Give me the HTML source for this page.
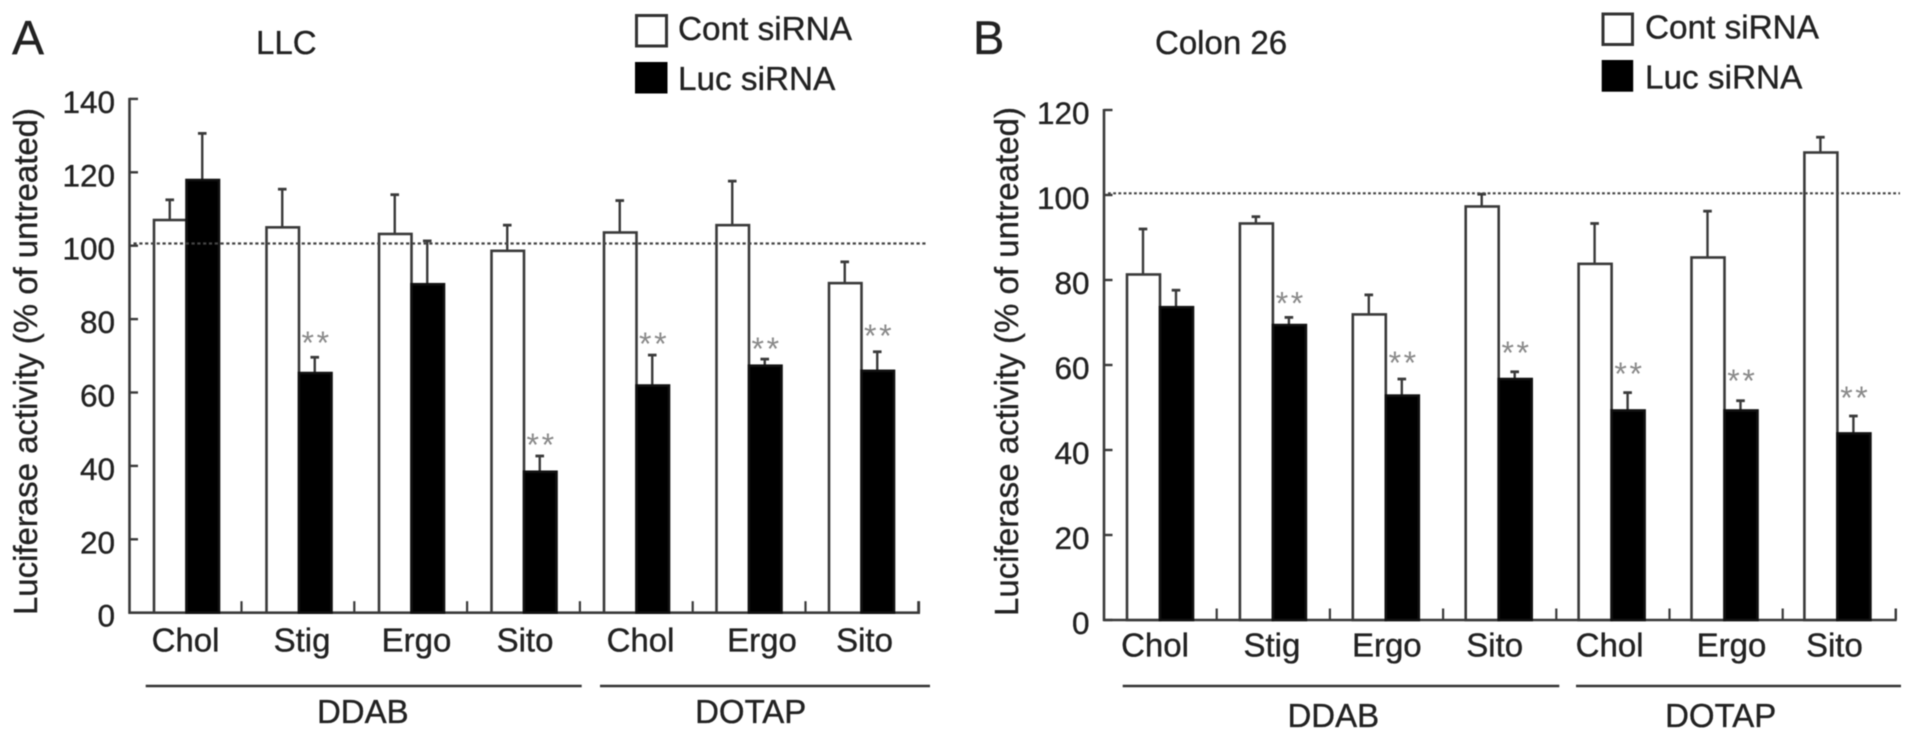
<!DOCTYPE html>
<html lang="en">
<head>
<meta charset="utf-8">
<title>Luciferase activity charts</title>
<style>
html,body{margin:0;padding:0;background:#fff;width:1913px;height:741px;overflow:hidden}
svg{display:block;filter:blur(.6px)}
text{font-family:"Liberation Sans",Arial,sans-serif;fill:#222;stroke:#222;stroke-width:.35px}
</style>
</head>
<body>
<svg id="figure" xmlns="http://www.w3.org/2000/svg" width="1913" height="741" viewBox="0 0 1913 741">
  <rect width="1913" height="741" fill="#fff"/>

  <g id="panel-a">
    <text x="12" y="54" font-size="48">A</text>
    <text x="256" y="54" font-size="33">LLC</text>
    <text transform="translate(37,615) rotate(-90)" font-size="33" textLength="507">Luciferase activity (% of untreated)</text>
    <g>
      <rect x="636.5" y="15.5" width="30" height="30.5" fill="#fff" stroke="#333" stroke-width="3"/>
      <text x="678" y="40" font-size="33.3">Cont siRNA</text>
      <rect x="635" y="62" width="32.5" height="31.5" fill="#000"/>
      <text x="678" y="90" font-size="33.3">Luc siRNA</text>
    </g>
    <line x1="145.7" x2="581.7" y1="686" y2="686" stroke="#333" stroke-width="2.6"/>
    <line x1="600" x2="930" y1="686" y2="686" stroke="#333" stroke-width="2.6"/>
    <text x="362.8" y="723" font-size="33" text-anchor="middle">DDAB</text>
    <text x="750.7" y="723" font-size="33" text-anchor="middle">DOTAP</text>
  </g>

  <g id="panel-b">
    <text x="973" y="54" font-size="47">B</text>
    <text x="1155" y="54" font-size="33">Colon 26</text>
    <text transform="translate(1018,616) rotate(-90)" font-size="33" textLength="509">Luciferase activity (% of untreated)</text>
    <g>
      <rect x="1603" y="14" width="29.5" height="30.5" fill="#fff" stroke="#333" stroke-width="3"/>
      <text x="1645" y="38.3" font-size="33.3">Cont siRNA</text>
      <rect x="1601.7" y="60" width="31.5" height="31.7" fill="#000"/>
      <text x="1645" y="88.3" font-size="33.3">Luc siRNA</text>
    </g>
    <line x1="1122.7" x2="1559.3" y1="686" y2="686" stroke="#333" stroke-width="2.6"/>
    <line x1="1576" x2="1901" y1="686" y2="686" stroke="#333" stroke-width="2.6"/>
    <text x="1333.3" y="727" font-size="33" text-anchor="middle">DDAB</text>
    <text x="1720.7" y="727" font-size="33" text-anchor="middle">DOTAP</text>
  </g>
</svg>

<script>
// Shared categories
const categories = ['Chol', 'Stig', 'Ergo', 'Sito', 'Chol', 'Ergo', 'Sito'];

// Panel A (LLC) values
const ticksA = [0, 20, 40, 60, 80, 100, 120, 140];
const contA = [107, 105, 103.2, 98.6, 103.6, 105.6, 89.8];
const contTopA = [112.5, 115.4, 113.9, 105.6, 112.3, 117.6, 95.6];
const lucA = [117.9, 65.3, 89.5, 38.4, 61.9, 67.3, 65.9];
const lucTopA = [130.6, 69.6, 101.3, 42.7, 70.2, 69.1, 71.1];
const starsA = [null, 74.3, null, 46.5, 74, 72.7, 76.2];
const referenceA = 100.6;

// Panel B (Colon 26) values
const ticksB = [0, 20, 40, 60, 80, 100, 120];
const contB = [81.3, 93.3, 71.9, 97.3, 83.8, 85.3, 110];
const contTopB = [92, 94.9, 76.5, 100.2, 93.3, 96.2, 113.6];
const lucB = [73.6, 69.4, 52.8, 56.7, 49.3, 49.3, 43.9];
const lucTopB = [77.6, 71.2, 56.7, 58.4, 53.5, 51.6, 48];
const starsB = [null, 75.1, 61.2, 63.5, 58.6, 56.9, 52.9];
const referenceB = 100.4;

const NS = 'http://www.w3.org/2000/svg';

function make(tag, attrs, parent) {
  const node = document.createElementNS(NS, tag);
  for (const key in attrs) node.setAttribute(key, attrs[key]);
  parent.appendChild(node);
  return node;
}

function drawPanel(cfg) {
  const root = document.getElementById(cfg.id);
  const p = cfg.prefix;
  const y = function (v) { return cfg.y0 - v * cfg.yScale; };
  const groupLeft = function (i) { return cfg.barStart + cfg.band * i; };
  const lineColor = '#3a3a3a';

  // Y axis line
  const yAxis = make('line', {x1: cfg.axisX, x2: cfg.axisX, y1: y(cfg.ticks[cfg.ticks.length - 1]) - 1, y2: cfg.y0 + 1, stroke: lineColor, 'stroke-width': 2.6}, root);
  
  

  // Y ticks and labels
  cfg.ticks.forEach(function (t) {
    const tick = make('line', {x1: cfg.axisX, x2: cfg.axisX + 8.5, y1: y(t), y2: y(t), stroke: lineColor, 'stroke-width': 2.4}, root);
    
    
    const label = make('text', {x: cfg.axisX - 14.5, y: y(t) + 14, 'font-size': 31.5, 'text-anchor': 'end'}, root);
    label.textContent = String(t);
    
    
  });

  // X axis line
  const xAxis = make('line', {x1: cfg.axisX - 1, x2: cfg.xEnd + 1, y1: cfg.y0, y2: cfg.y0, stroke: lineColor, 'stroke-width': 2.6}, root);
  
  

  // Bars, error bars, significance marks, category labels
  categories.forEach(function (name, i) {
    const left = groupLeft(i);
    const mid = left + cfg.barW;

    const tick = make('line', {x1: cfg.tickStart + cfg.tickStep * i, x2: cfg.tickStart + cfg.tickStep * i, y1: cfg.y0, y2: cfg.y0 - 11.5, stroke: lineColor, 'stroke-width': 2.2}, root);
    
    

    [[cfg.cont, cfg.contTop, left, '#fff', lineColor, 'cont'], [cfg.luc, cfg.lucTop, mid, '#000', '#111', 'luc']].forEach(function (s) {
      const cx = s[2] + cfg.barW / 2 - 0.5;
      const stem = make('line', {x1: cx, x2: cx, y1: y(s[1][i]), y2: y(s[0][i]), stroke: lineColor, 'stroke-width': 2.4}, root);
      
      
      const cap = make('line', {x1: cx - 4.3, x2: cx + 4.3, y1: y(s[1][i]), y2: y(s[1][i]), stroke: lineColor, 'stroke-width': 2.8}, root);
      
      
      const bar = make('rect', {x: s[2], y: y(s[0][i]), width: cfg.barW, height: cfg.y0 - y(s[0][i]), fill: s[3], stroke: s[4], 'stroke-width': 2.6}, root);
      
      
    });

    if (cfg.stars[i] !== null) {
      const stars = make('text', {x: mid + cfg.barW / 2 - 13.7, y: y(cfg.stars[i]) + 13.9, 'font-size': 32, 'letter-spacing': 2.6}, root);
      stars.textContent = '**';
      stars.style.fill = '#8a8a8a';
      stars.style.stroke = 'none';
      
      
    }

    const label = make('text', {x: mid + cfg.labelNudge[i], y: cfg.labelY, 'font-size': 33, 'text-anchor': 'middle'}, root);
    label.textContent = name;
    
    
  });

  // Right end tick of the x axis
  const endTick = make('line', {x1: cfg.xEnd, x2: cfg.xEnd, y1: cfg.y0, y2: cfg.y0 - 11.5, stroke: lineColor, 'stroke-width': 2.2}, root);
  
  

  // Dotted reference line
  const ref = make('line', {x1: cfg.axisX + 4, x2: cfg.refEnd, y1: y(cfg.reference), y2: y(cfg.reference), stroke: '#444', 'stroke-width': 2.2, 'stroke-dasharray': cfg.dash}, root);
  
  
}

drawPanel({
  id: 'panel-a', prefix: 'panel-a', ticks: ticksA,
  cont: contA, contTop: contTopA, luc: lucA, lucTop: lucTopA, stars: starsA, reference: referenceA,
  axisX: 129.5, y0: 612.7, yScale: 3.67, xEnd: 919,
  barStart: 154, band: 112.5, barW: 32.5,
  tickStart: 241.5, tickStep: 112.8, labelY: 651.7,
  labelNudge: [-1, 3, 5, 1, 4, 13, 3], refEnd: 927, dash: '3.2 2.6'
});

drawPanel({
  id: 'panel-b', prefix: 'panel-b', ticks: ticksB,
  cont: contB, contTop: contTopB, luc: lucB, lucTop: lucTopB, stars: starsB, reference: referenceB,
  axisX: 1104, y0: 620, yScale: 4.25, xEnd: 1895.7,
  barStart: 1127, band: 112.9, barW: 33,
  tickStart: 1216.7, tickStep: 113.2, labelY: 656.7,
  labelNudge: [-5, -1, 1, -4, -2, 7, -3], refEnd: 1900, dash: '2.8 2.4'
});
</script>
</body>
</html>
